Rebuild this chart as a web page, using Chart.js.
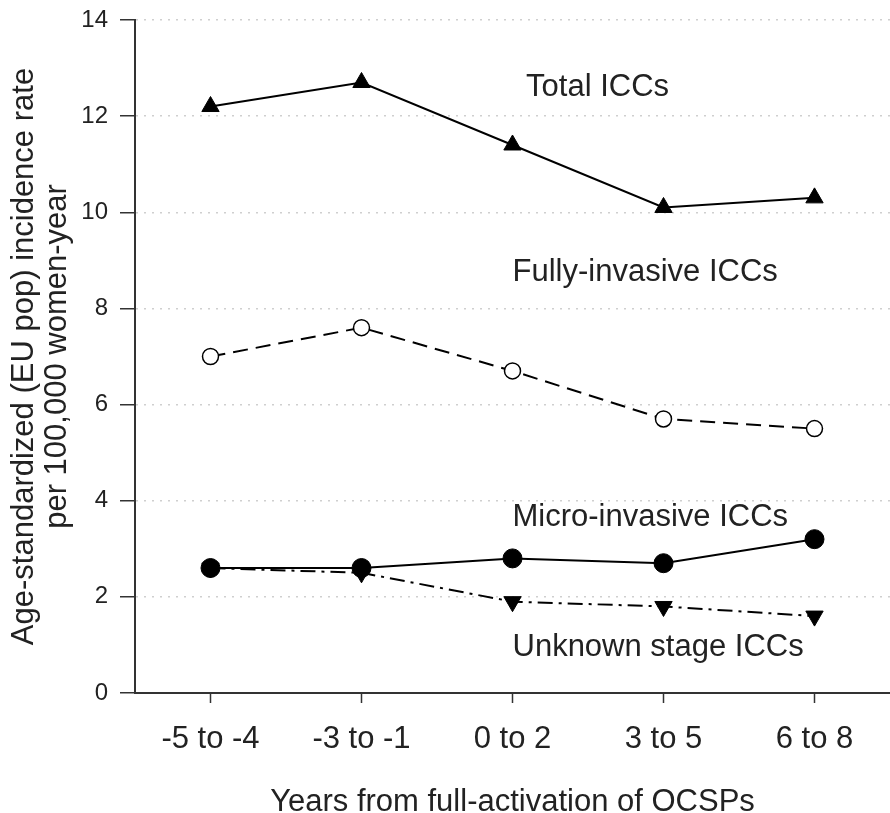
<!DOCTYPE html>
<html>
<head>
<meta charset="utf-8">
<script src="https://cdn.jsdelivr.net/npm/chart.js@4/dist/chart.umd.min.js"></script>
<style>
  html, body { margin: 0; padding: 0; background: #fff; overflow: hidden; }
  #chart-area { display: block; }
</style>
</head>
<body>
<canvas id="chart-area" width="890" height="813"></canvas>
<script>
const categories = ['-5 to -4', '-3 to -1', '0 to 2', '3 to 5', '6 to 8'];
const totalIccs = [12.2, 12.7, 11.4, 10.1, 10.3];
const fullyInvasive = [7.0, 7.6, 6.7, 5.7, 5.5];
const microInvasive = [2.6, 2.6, 2.8, 2.7, 3.2];
const unknownStage = [2.6, 2.5, 1.9, 1.8, 1.6];

// series labels written beside the lines: [text, category index, y value]
const seriesLabels = [
  ['Total ICCs', 2.09, 12.6],
  ['Fully-invasive ICCs', 2.0, 8.74],
  ['Micro-invasive ICCs', 2.0, 3.66],
  ['Unknown stage ICCs', 2.0, 0.94],
];

const font = 'Arial, "Liberation Sans", sans-serif';

const labelPlugin = {
  id: 'seriesLabels',
  afterDatasetsDraw(chart) {
    const { ctx, scales } = chart;
    ctx.save();
    ctx.font = '31px ' + font;
    ctx.fillStyle = '#222';
    ctx.textAlign = 'left';
    ctx.textBaseline = 'middle';
    seriesLabels.forEach(([text, xv, yv]) => {
      ctx.fillText(text, scales.x.getPixelForValue(xv), scales.y.getPixelForValue(yv));
    });
    ctx.restore();
  },
};

const ctx = document.getElementById('chart-area').getContext('2d');

window.myChart = new Chart(ctx, {
  type: 'line',
  data: {
    labels: categories,
    datasets: [
      {
        label: 'Total ICCs',
        data: totalIccs,
        borderColor: '#000',
        backgroundColor: '#000',
        borderWidth: 2,
        pointStyle: 'triangle',
        pointRadius: 10,
        pointBorderWidth: 1,
        order: 1,
      },
      {
        label: 'Fully-invasive ICCs',
        data: fullyInvasive,
        borderColor: '#000',
        backgroundColor: '#fff',
        borderWidth: 2,
        borderDash: [15, 8],
        pointStyle: 'circle',
        pointRadius: 8,
        pointBorderWidth: 1.5,
        order: 2,
      },
      {
        label: 'Micro-invasive ICCs',
        data: microInvasive,
        borderColor: '#000',
        backgroundColor: '#000',
        borderWidth: 2,
        pointStyle: 'circle',
        pointRadius: 9.5,
        pointBorderWidth: 1,
        order: 3,
      },
      {
        label: 'Unknown stage ICCs',
        data: unknownStage,
        borderColor: '#000',
        backgroundColor: '#000',
        borderWidth: 2,
        borderDash: [15, 6, 3, 6],
        pointStyle: 'triangle',
        pointRotation: 180,
        pointRadius: 10,
        pointBorderWidth: 1,
        order: 4,
      },
    ],
  },
  options: {
    responsive: false,
    animation: false,
    layout: { autoPadding: false, padding: { top: 20, right: 0, left: 0, bottom: 0 } },
    plugins: {
      legend: { display: false },
      tooltip: { enabled: false },
    },
    scales: {
      x: {
        offset: true,
        grid: {
          drawOnChartArea: false,
          drawTicks: true,
          tickLength: 10,
          tickColor: '#333',
          tickWidth: 1.5,
        },
        border: { color: '#333', width: 2 },
        ticks: {
          color: '#222',
          padding: 18,
          font: { family: font, size: 31 },
        },
        title: {
          display: true,
          text: 'Years from full-activation of OCSPs',
          color: '#222',
          padding: { top: 0, bottom: 0 },
          font: { family: font, size: 31, lineHeight: 0.7 },
        },
        afterFit(scale) { scale.height = 120; },
      },
      y: {
        min: 0,
        max: 14,
        ticks: {
          stepSize: 2,
          color: '#222',
          padding: 12,
          font: { family: font, size: 24 },
        },
        grid: {
          color: (c) => (c.tick && c.tick.value === 0 ? 'rgba(0,0,0,0)' : '#cfcfcf'),
          lineWidth: 1.5,
          tickLength: 15,
          tickColor: '#333',
          tickWidth: 1.5,
          tickBorderDash: [],
        },
        border: { color: '#333', width: 2, dash: [2, 6] },
        title: {
          display: true,
          text: ['Age-standardized (EU pop) incidence rate', 'per 100,000 women-year'],
          color: '#222',
          padding: { top: 8, bottom: 0 },
          font: { family: font, size: 31, lineHeight: 1.07 },
        },
        afterFit(scale) {
          scale.width = 135;
          scale.paddingTop = 14;
          scale.paddingBottom = 0;
        },
      },
    },
  },
  plugins: [labelPlugin],
});
</script>
</body>
</html>
